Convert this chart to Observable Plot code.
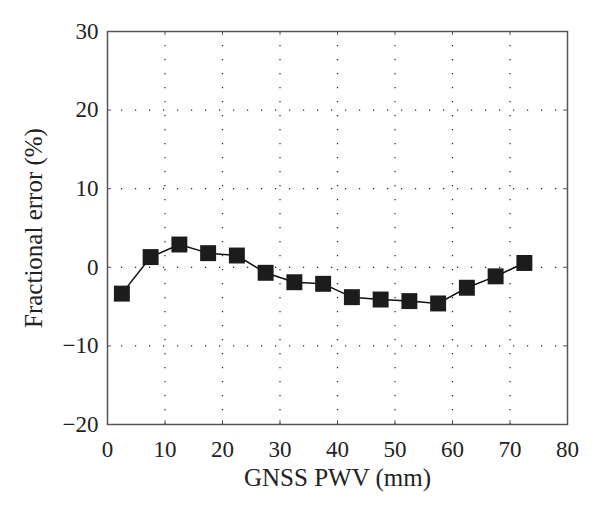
<!DOCTYPE html>
<html>
<head>
<meta charset="utf-8">
<script src="https://cdn.jsdelivr.net/npm/d3@7"></script>
<script src="https://cdn.jsdelivr.net/npm/@observablehq/plot@0.6"></script>
<style>
  html, body { margin: 0; padding: 0; background: #fff; }
  #chart svg { display: block; }
</style>
</head>
<body>
<div id="chart"></div>
<script>
const pwv = [2.5, 7.5, 12.5, 17.5, 22.5, 27.5, 32.5, 37.5, 42.5, 47.5, 52.5, 57.5, 62.5, 67.5, 72.5];
const fracError = [-3.35, 1.3, 2.9, 1.8, 1.5, -0.7, -1.9, -2.1, -3.8, -4.1, -4.3, -4.6, -2.6, -1.15, 0.55];
const xTicks = [0, 10, 20, 30, 40, 50, 60, 70, 80];
const yTicks = [-20, -10, 0, 10, 20, 30];
const xLabel = "GNSS PWV (mm)";
const yLabel = "Fractional error (%)";

const points = pwv.map((x, i) => ({x, y: fracError[i]}));
const font = "'Liberation Serif', 'DejaVu Serif', serif";

const chart = Plot.plot({
  width: 600,
  height: 513,
  marginLeft: 107,
  marginRight: 33,
  marginTop: 31,
  marginBottom: 89,
  style: {fontFamily: font, fontSize: "23px", color: "#222", background: "#fff"},
  x: {domain: [0, 80], ticks: xTicks, tickSize: 0, tickPadding: 16, label: null},
  y: {domain: [-20, 30], ticks: yTicks, tickSize: 0, tickPadding: 9, label: null,
      tickFormat: d => d < 0 ? "\u2212" + Math.abs(d) : String(d)},
  marks: [
    Plot.gridX(xTicks.filter(d => d > 0 && d < 80), {stroke: "#222", strokeOpacity: 1, strokeWidth: 1.2, strokeDasharray: "1.2,12.8"}),
    Plot.gridY(yTicks.filter(d => d > -20 && d < 30), {stroke: "#222", strokeOpacity: 1, strokeWidth: 1.2, strokeDasharray: "1.2,12.8"}),
    Plot.ruleX(xTicks, {x: d => d, y1: -20, y2: -19.5, stroke: "#555"}),
    Plot.ruleX(xTicks, {x: d => d, y1: 30, y2: 29.5, stroke: "#555"}),
    Plot.ruleY(yTicks, {y: d => d, x1: 0, x2: 0.7, stroke: "#555"}),
    Plot.ruleY(yTicks, {y: d => d, x1: 80, x2: 79.3, stroke: "#555"}),
    Plot.frame({stroke: "#555", strokeWidth: 1.5}),
    Plot.line(points, {x: "x", y: "y", stroke: "#111", strokeWidth: 1.5}),
    Plot.dot(points, {x: "x", y: "y", symbol: "square", r: 9, fill: "#1c1c1c", stroke: "none"}),
    Plot.text([xLabel], {text: d => d, frameAnchor: "bottom", dy: 61, fontSize: 25, fill: "#222"}),
    Plot.text([yLabel], {text: d => d, frameAnchor: "left", dx: -74, rotate: -90, textAnchor: "middle", fontSize: 25, fill: "#222"})
  ]
});
document.getElementById("chart").appendChild(chart);
</script>
</body>
</html>
